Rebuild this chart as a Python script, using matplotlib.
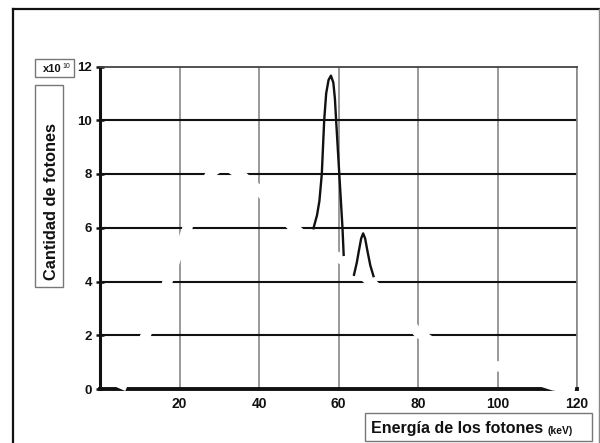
import matplotlib
matplotlib.use('Agg')
import matplotlib.pyplot as plt
from matplotlib import font_manager
from matplotlib.lines import Line2D
from matplotlib.patches import Rectangle

# continuum (drawn white, it only shows where it cuts the grid)
cont_kev = [5.2, 8.5, 11.5, 14.5, 17, 19.5, 22, 25, 28, 30.5, 33, 36, 40, 44, 48, 52, 56, 60,
            64, 68, 72, 76, 80, 85, 90, 95, 100, 105, 110, 114, 117, 119.5]
cont_n = [0, 1.1, 2.0, 3.0, 4.0, 5.0, 6.0, 7.3, 8.05, 8.3, 8.2, 7.9, 7.4, 6.7, 6.1, 5.6, 5.2, 4.9,
          4.5, 4.0, 3.4, 2.75, 2.1, 1.6, 1.3, 1.05, 0.85, 0.6, 0.32, 0.13, 0.05, 0]

# characteristic peaks
ka_kev = [53.7, 54.6, 55.2, 55.8, 56.4, 56.9, 57.5, 58.1, 58.7, 59.1, 59.4, 60.2, 61.0, 61.3]
ka_n = [5.98, 6.47, 7.0, 8.0, 10.0, 11.0, 11.5, 11.66, 11.4, 10.8, 10.0, 8.0, 6.0, 4.99]
kb_kev = [63.9, 64.6, 65.1, 65.7, 66.2, 66.7, 67.3, 68.0, 68.8]
kb_n = [4.25, 4.7, 5.12, 5.6, 5.79, 5.6, 5.12, 4.6, 4.2]

x_ticks = [20, 40, 60, 80, 100, 120]
y_ticks = [0, 2, 4, 6, 8, 10, 12]

W, H = 600, 443
names = {f.name for f in font_manager.fontManager.ttflist}
narrow = 'Liberation Sans Narrow' in names
nfont = 'Liberation Sans Narrow' if narrow else 'Liberation Sans'
plt.rcParams['font.family'] = ['Liberation Sans', 'DejaVu Sans']


def fx(x):
    return x / W


def fy(y):
    return 1 - y / H


fig = plt.figure(figsize=(6, 4.43), dpi=100)
ax = fig.add_axes([fx(100), fy(389), fx(577) - fx(100), fy(66.5) - fy(389)])

ax.plot(cont_kev, cont_n, color='white', lw=7.2, solid_capstyle='butt', zorder=3, clip_on=False)
ax.plot(ka_kev, ka_n, color='#111', lw=1.7, zorder=4)
ax.plot(kb_kev, kb_n, color='#111', lw=1.7, zorder=4)

ax.set_xlim(0, 120)
ax.set_ylim(0, 12)
ax.set_xticks(x_ticks)
ax.set_yticks(y_ticks)
ax.set_xticklabels([str(v) for v in x_ticks], fontweight='bold', fontsize=10, color='#111')
ax.set_yticklabels([str(v) for v in y_ticks], fontweight='bold', fontsize=10.5 if narrow else 9.5,
                   family=nfont, color='#111')
ax.tick_params(axis='x', length=0, pad=6)
ax.tick_params(axis='y', direction='inout', length=6, width=1.8, pad=2.5, color='#111')

ax.xaxis.grid(True, color='#888', lw=1.2)
ax.yaxis.grid(True, color='#111', lw=1.5)
ax.yaxis.get_gridlines()[-1].set_visible(False)

ax.spines['left'].set_linewidth(2.2)
ax.spines['left'].set_color('#111')
ax.spines['bottom'].set_linewidth(2.8)
ax.spines['bottom'].set_color('#111')
ax.spines['top'].set_linewidth(1.3)
ax.spines['top'].set_color('#444')
ax.spines['right'].set_linewidth(1.2)
ax.spines['right'].set_color('#888')

# outer frame
fig.add_artist(Line2D([fx(13), fx(600)], [fy(9), fy(9)], color='#111', lw=1.6))
fig.add_artist(Line2D([fx(13), fx(13)], [fy(9), fy(443)], color='#111', lw=1.6))
fig.add_artist(Line2D([fx(599), fx(599)], [fy(9), fy(443)], color='#888', lw=1))

# label boxes
for x0, y0, x1, y1 in [(35, 59, 74, 77), (35, 85, 63, 287), (365, 413, 592, 441)]:
    fig.add_artist(Rectangle((fx(x0), fy(y1)), fx(x1) - fx(x0), fy(y0) - fy(y1),
                             transform=fig.transFigure, fill=False, ec='#777', lw=1))

fig.text(fx(42.5), fy(72.5), 'x10', fontsize=8, fontweight='bold', color='#111', va='baseline')
fig.text(fx(62.5), fy(67.5), '10', fontsize=5, color='#111', va='baseline')

fig.text(fx(51.5), fy(202), 'Cantidad de fotones', rotation=90, ha='center', va='center',
         fontsize=14 if narrow else 11.8, fontweight='bold', family=nfont, color='#111')

fig.text(fx(371), fy(433.5), 'Energía de los fotones', fontsize=11.5, fontweight='bold',
         color='#111', va='baseline')
fig.text(fx(548), fy(433.5), '(keV)', fontsize=7.5, fontweight='bold', color='#111', va='baseline')

fig.savefig('out.png', dpi=100)
